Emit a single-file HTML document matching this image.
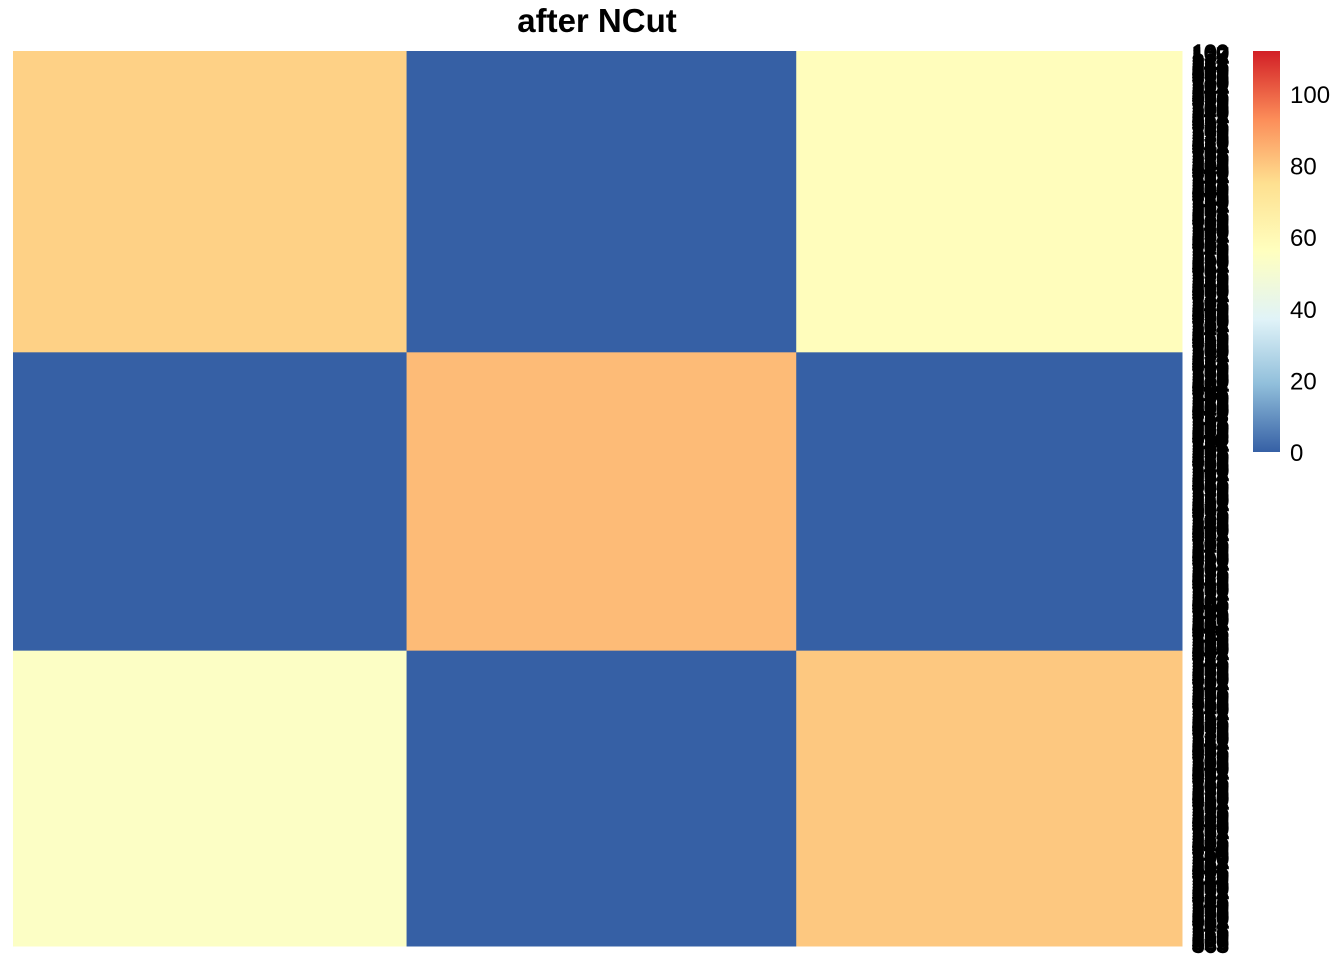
<!DOCTYPE html>
<html><head><meta charset="utf-8"><style>
body{margin:0;background:#fff;width:1344px;height:960px;overflow:hidden}
svg{display:block;font-family:"Liberation Sans",Arial,sans-serif}
</style></head><body>
<svg id="chart" width="1344" height="960">
<text x="597" y="32" text-anchor="middle" font-size="33" font-weight="bold">after NCut</text>
<g id="cells"></g>
<g id="rowlabels"></g>
<defs><linearGradient id="grad" x1="0" y1="1" x2="0" y2="0">
<stop offset="0" stop-color="#3660a5"/><stop offset="0.17" stop-color="#91bfdb"/><stop offset="0.33" stop-color="#e0f3f8"/><stop offset="0.5" stop-color="#ffffbf"/><stop offset="0.67" stop-color="#fee090"/><stop offset="0.83" stop-color="#fc8d59"/><stop offset="1" stop-color="#d21f26"/></linearGradient></defs>
<rect x="1253" y="51" width="27" height="401" fill="url(#grad)"/>
<g id="legendticks"></g>
</svg>
<script>
const blockSizes=[101,100,99];
const blockValues=[[78,0,57],[0,83,0],[54,0,80]];
const legendTicks=[0,20,40,60,80,100];
const legendMax=112;
const X0=13,X1=1182,Y0=51,Y1=946;
const N=blockSizes.reduce((a,b)=>a+b,0);
const xs=i=>X0+(X1-X0)*i/N, ys=i=>Y0+(Y1-Y0)*i/N;
const pal=['#3660a5','#91bfdb','#e0f3f8','#ffffbf','#fee090','#fc8d59','#d21f26'];
function hex(h){return [1,3,5].map(i=>parseInt(h.substr(i,2),16));}
function color(v){let t=Math.max(0,Math.min(1,v/legendMax))*(pal.length-1);let i=Math.min(pal.length-2,Math.floor(t)),f=t-i;
const a=hex(pal[i]),b=hex(pal[i+1]);return 'rgb('+a.map((c,k)=>Math.round(c+(b[k]-c)*f)).join(',')+')';}
const NS='http://www.w3.org/2000/svg';
const cells=document.getElementById('cells');
let r0=0;
blockSizes.forEach((rs,bi)=>{let c0=0;blockSizes.forEach((cs,bj)=>{
const el=document.createElementNS(NS,'rect');
el.setAttribute('x',xs(c0));el.setAttribute('y',ys(r0));
el.setAttribute('width',xs(c0+cs)-xs(c0)+0.5);el.setAttribute('height',ys(r0+rs)-ys(r0)+0.5);
el.setAttribute('fill',color(blockValues[bi][bj]));


cells.appendChild(el);c0+=cs;});r0+=rs;});
const rl=document.getElementById('rowlabels');
for(let i=0;i<N;i++){const t=document.createElementNS(NS,'text');
t.setAttribute('x',1192);t.setAttribute('y',ys(i+0.5)+8);t.setAttribute('font-size','22');
t.setAttribute('stroke','#000');t.setAttribute('stroke-width','1.5');
t.textContent=String((i*37)%N+100);


rl.appendChild(t);}
const lt=document.getElementById('legendticks');
legendTicks.forEach(v=>{const t=document.createElementNS(NS,'text');
t.setAttribute('x',1290);t.setAttribute('y',452-(452-51)*v/legendMax+9);t.setAttribute('font-size','24');
t.textContent=v;


lt.appendChild(t);});
</script>
</body></html>
